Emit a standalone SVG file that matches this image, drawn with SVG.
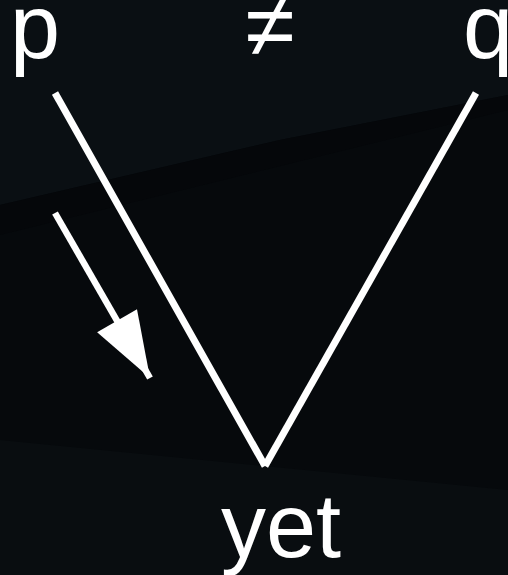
<svg xmlns="http://www.w3.org/2000/svg" width="508" height="575" viewBox="0 0 508 575">
<style>
.lbl{font-family:"Liberation Sans",Arial,sans-serif;font-size:90px;fill:#ffffff}
.edge{stroke:#ffffff;stroke-width:7;fill:none}
</style>
<defs>
<marker id="ah" markerUnits="userSpaceOnUse" markerWidth="80" markerHeight="60" refX="0" refY="0" viewBox="-70 -30 80 60" orient="auto"><path d="M0,0 L-66,-23 L-66,23 Z" fill="#ffffff"/></marker>
</defs>
<rect width="508" height="575" fill="#06090c"/>
<polygon points="0,0 508,0 508,95 280,140 0,205" fill="#0a0f13"/>
<polygon points="0,205 280,140 508,95 508,110 0,235" fill="#05070a"/>
<polygon points="0,440 508,490 508,575 0,575" fill="#090d10"/>
<g id="p"><text class="lbl" x="10" y="58">p</text></g>
<g id="neq"><text class="lbl" x="270" y="56" text-anchor="middle">≠</text></g>
<g id="q"><text class="lbl" x="463" y="58">q</text></g>
<g id="yet"><text class="lbl" x="281" y="557" text-anchor="middle">yet</text></g>
<g id="connectors">
<line class="edge" x1="55" y1="213" x2="150" y2="378" marker-end="url(#ah)" style="stroke-width:6.5"/>
<line class="edge" x1="55" y1="93" x2="265" y2="466"/>
<line class="edge" x1="476" y1="93" x2="265" y2="466"/>
</g>
</svg>
